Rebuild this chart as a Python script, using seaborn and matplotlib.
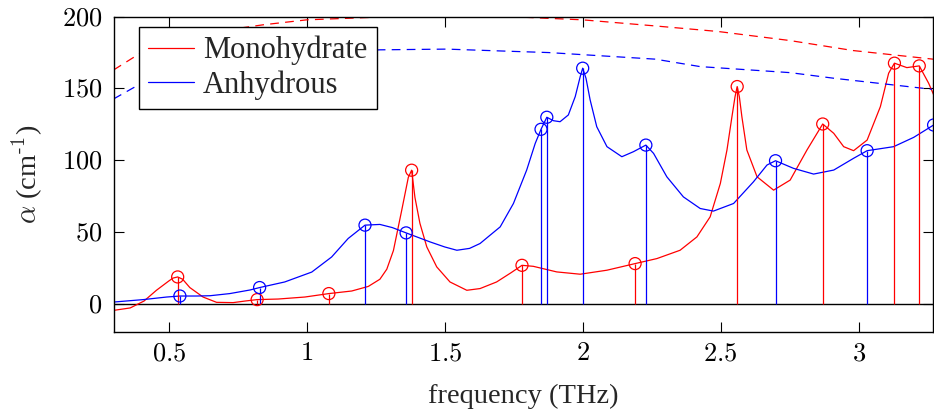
import matplotlib
matplotlib.use("Agg")
import matplotlib.pyplot as plt
import matplotlib.ticker as mticker
import seaborn as sns
import pandas as pd

# Absorption spectra (frequency in THz, alpha in cm^-1)
mono_freq = [0.30, 0.36, 0.41, 0.455, 0.50, 0.515, 0.532, 0.55, 0.576, 0.624, 0.673, 0.733,
             0.776, 0.820, 0.896, 0.993, 1.080, 1.163, 1.223, 1.265, 1.290, 1.314, 1.344,
             1.368, 1.380, 1.392, 1.410, 1.435, 1.471, 1.519, 1.580, 1.628, 1.688, 1.740,
             1.780, 1.821, 1.906, 1.991, 2.088, 2.190, 2.269, 2.353, 2.414, 2.462, 2.499,
             2.523, 2.541, 2.552, 2.560, 2.568, 2.577, 2.595, 2.632, 2.692, 2.752, 2.813,
             2.870, 2.910, 2.946, 2.982, 3.031, 3.079, 3.109, 3.130, 3.175, 3.220, 3.254,
             3.275]
mono_alpha = [-4.7, -3.0, 1.8, 9.3, 15.8, 17.8, 18.6, 17.0, 11.2, 4.6, 0.9, 0.7,
              1.8, 2.8, 3.2, 4.6, 7.0, 8.8, 12.0, 17.0, 24.0, 37.0, 65.0,
              88.0, 93.0, 74.0, 56.0, 39.5, 25.6, 15.1, 9.3, 10.5, 15.1, 21.5,
              26.7, 26.0, 22.1, 20.5, 23.3, 27.9, 31.4, 37.2, 46.5, 60.5, 83.8,
              107.1, 130.3, 144.0, 151.3, 144.0, 130.3, 107.1, 88.4, 79.1, 86.1, 107.1,
              125.2, 118.7, 109.4, 106.6, 114.0, 137.3, 160.6, 167.6, 164.5, 165.7, 153.6,
              144.3]

anhy_freq = [0.30, 0.407, 0.492, 0.540, 0.60, 0.649, 0.721, 0.794, 0.829, 0.920, 1.018,
             1.090, 1.150, 1.211, 1.265, 1.310, 1.360, 1.447, 1.500, 1.544, 1.590, 1.628,
             1.660, 1.701, 1.749, 1.797, 1.828, 1.849, 1.870, 1.894, 1.918, 1.948, 1.973,
             1.991, 2.000, 2.012, 2.027, 2.051, 2.088, 2.142, 2.184, 2.229, 2.257, 2.305,
             2.365, 2.426, 2.474, 2.547, 2.619, 2.668, 2.699, 2.764, 2.837, 2.910, 2.982,
             3.031, 3.127, 3.200, 3.272]
anhy_alpha = [1.1, 2.8, 4.6, 5.3, 5.3, 5.5, 7.0, 9.5, 11.2, 15.1, 22.0,
              32.5, 45.4, 54.7, 55.2, 53.0, 49.3, 43.0, 39.5, 37.2, 38.5, 41.9,
              47.0, 53.5, 69.8, 93.1, 111.7, 121.5, 129.9, 127.5, 126.8, 131.5, 144.3,
              158.2, 164.1, 157.1, 142.0, 123.3, 109.4, 102.4, 105.9, 110.5, 104.7, 88.4,
              74.4, 66.3, 64.5, 69.8, 84.9, 96.6, 99.6, 94.3, 90.3, 93.1, 101.3,
              106.6, 109.4, 115.9, 124.5]

# Fitted peak positions and heights (stems with circles)
mono_peak_freq = [0.532, 0.820, 1.080, 1.380, 1.780, 2.190, 2.560, 2.870, 3.130, 3.220]
mono_peak_alpha = [18.6, 2.8, 7.0, 93.0, 26.7, 27.9, 151.3, 125.2, 167.6, 165.7]
anhy_peak_freq = [0.540, 0.829, 1.211, 1.360, 1.849, 1.870, 2.000, 2.229, 2.699, 3.031, 3.272]
anhy_peak_alpha = [5.3, 11.2, 54.7, 49.3, 121.5, 129.9, 164.1, 110.5, 99.6, 106.6, 124.5]

# Dashed upper curves
mono_max_freq = [0.30, 0.40, 0.50, 0.60, 0.70, 0.84, 1.00, 1.30, 1.60, 1.80, 2.00, 2.26,
                 2.49, 2.75, 2.98, 3.27]
mono_max_alpha = [162.9, 175.0, 181.5, 186.5, 190.5, 194.3, 197.8, 200.0, 200.3, 199.5,
                  197.8, 193.6, 189.7, 183.4, 176.4, 170.4]
anhy_max_freq = [0.30, 0.383, 0.50, 0.70, 0.90, 1.10, 1.265, 1.507, 1.75, 1.876, 2.263,
                 2.426, 2.752, 2.910, 3.266]
anhy_max_alpha = [142.7, 151.7, 159.0, 167.0, 172.0, 175.5, 176.9, 177.4, 175.8, 175.0,
                  170.4, 165.2, 161.0, 157.1, 149.4]

RED = "#ff0000"
BLUE = "#0000ff"

sns.set_style("ticks")
plt.rcParams['font.family'] = ['Liberation Serif', 'DejaVu Serif']
plt.rcParams['mathtext.fontset'] = 'cm'

fig, ax = plt.subplots(figsize=(9.34, 4.12), dpi=100)
fig.subplots_adjust(left=0.1217, right=0.999, bottom=0.1934, top=0.9595)

ax.axhline(0, color='black', lw=1.0, zorder=1)

mono = pd.DataFrame({'freq': mono_freq, 'alpha': mono_alpha})
anhy = pd.DataFrame({'freq': anhy_freq, 'alpha': anhy_alpha})
sns.lineplot(data=mono, x='freq', y='alpha', color=RED, lw=0.9, label='Monohydrate', ax=ax, sort=False)
sns.lineplot(data=anhy, x='freq', y='alpha', color=BLUE, lw=0.9, label='Anhydrous', ax=ax, sort=False)

# dashed curves
ax.plot(mono_max_freq, mono_max_alpha, color=RED, lw=0.9, dashes=(7, 5))
ax.plot(anhy_max_freq, anhy_max_alpha, color=BLUE, lw=0.9, dashes=(7, 5))

# stems and circles
ax.vlines(mono_peak_freq, 0, mono_peak_alpha, color=RED, lw=0.9)
ax.vlines(anhy_peak_freq, 0, anhy_peak_alpha, color=BLUE, lw=0.9)
sns.scatterplot(x=mono_peak_freq, y=mono_peak_alpha, ax=ax, s=75, facecolor='none',
                edgecolor=RED, linewidth=0.9, legend=False, zorder=3)
sns.scatterplot(x=anhy_peak_freq, y=anhy_peak_alpha, ax=ax, s=75, facecolor='none',
                edgecolor=BLUE, linewidth=0.9, legend=False, zorder=3)

ax.set_xlim(0.3, 3.27)
ax.set_ylim(-20, 200)
ax.set_xticks([0.5, 1, 1.5, 2, 2.5, 3])
ax.set_yticks([0, 50, 100, 150, 200])
ax.xaxis.set_major_formatter(mticker.FuncFormatter(lambda v, p: f'${v:g}$'))
ax.yaxis.set_major_formatter(mticker.FuncFormatter(lambda v, p: f'${v:g}$'))
ax.tick_params(direction='in', length=7.5, width=0.8, top=True, right=True,
               labelsize=19, colors='black', pad=8)

for sp in ax.spines.values():
    sp.set_color('black')
    sp.set_linewidth(1.0)

ax.set_xlabel('frequency (THz)', fontsize=20.5, labelpad=13)
ax.set_ylabel(r'$\alpha$ (cm$^{\text{-1}}$)', fontsize=20.5, labelpad=12)

leg = ax.legend(loc='upper left', bbox_to_anchor=(0.031, 0.968), fontsize=22,
                frameon=True, fancybox=False, framealpha=1, edgecolor='black',
                handlelength=1.5, handletextpad=0.3, borderpad=0.3, labelspacing=0.15,
                borderaxespad=0)
leg.get_frame().set_linewidth(1.0)

plt.savefig('out.png', dpi=100)
